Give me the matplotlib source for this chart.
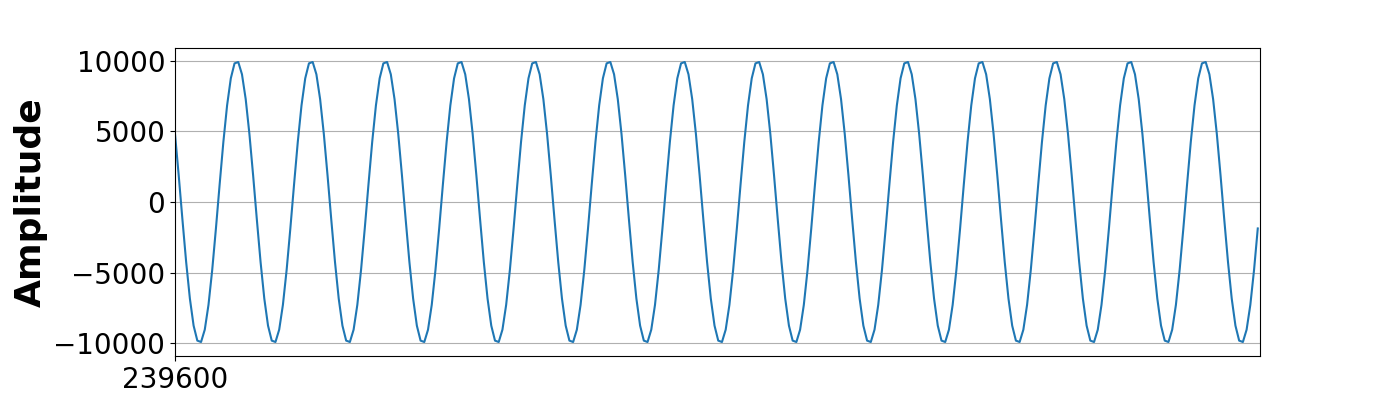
import matplotlib
matplotlib.use("Agg")
import matplotlib.pyplot as plt
import numpy as np

# sample index of the first point, spacing between read-off points
start_sample = 239600
step = 5
window = 1458

# amplitude, one row per cycle (~100 samples)
amplitude = [
    4818, 1874, -1253, -4258, -6845, -8763, -9823, -9921, -9048, -7290,
    -4818, -1874, 1253, 4258, 6845, 8763, 9823, 9921, 9048, 7290,
    4818, 1874, -1253, -4258, -6845, -8763, -9823, -9921, -9048, -7290,
    -4818, -1874, 1253, 4258, 6845, 8763, 9823, 9921, 9048, 7290,
    4818, 1874, -1253, -4258, -6845, -8763, -9823, -9921, -9048, -7290,
    -4818, -1874, 1253, 4258, 6845, 8763, 9823, 9921, 9048, 7290,
    4818, 1874, -1253, -4258, -6845, -8763, -9823, -9921, -9048, -7290,
    -4818, -1874, 1253, 4258, 6845, 8763, 9823, 9921, 9048, 7290,
    4818, 1874, -1253, -4258, -6845, -8763, -9823, -9921, -9048, -7290,
    -4818, -1874, 1253, 4258, 6845, 8763, 9823, 9921, 9048, 7290,
    4818, 1874, -1253, -4258, -6845, -8763, -9823, -9921, -9048, -7290,
    -4818, -1874, 1253, 4258, 6845, 8763, 9823, 9921, 9048, 7290,
    4818, 1874, -1253, -4258, -6845, -8763, -9823, -9921, -9048, -7290,
    -4818, -1874, 1253, 4258, 6845, 8763, 9823, 9921, 9048, 7290,
    4818, 1874, -1253, -4258, -6845, -8763, -9823, -9921, -9048, -7290,
    -4818, -1874, 1253, 4258, 6845, 8763, 9823, 9921, 9048, 7290,
    4818, 1874, -1253, -4258, -6845, -8763, -9823, -9921, -9048, -7290,
    -4818, -1874, 1253, 4258, 6845, 8763, 9823, 9921, 9048, 7290,
    4818, 1874, -1253, -4258, -6845, -8763, -9823, -9921, -9048, -7290,
    -4818, -1874, 1253, 4258, 6845, 8763, 9823, 9921, 9048, 7290,
    4818, 1874, -1253, -4258, -6845, -8763, -9823, -9921, -9048, -7290,
    -4818, -1874, 1253, 4258, 6845, 8763, 9823, 9921, 9048, 7290,
    4818, 1874, -1253, -4258, -6845, -8763, -9823, -9921, -9048, -7290,
    -4818, -1874, 1253, 4258, 6845, 8763, 9823, 9921, 9048, 7290,
    4818, 1874, -1253, -4258, -6845, -8763, -9823, -9921, -9048, -7290,
    -4818, -1874, 1253, 4258, 6845, 8763, 9823, 9921, 9048, 7290,
    4818, 1874, -1253, -4258, -6845, -8763, -9823, -9921, -9048, -7290,
    -4818, -1874, 1253, 4258, 6845, 8763, 9823, 9921, 9048, 7290,
    4818, 1874, -1253, -4258, -6845, -8763, -9823, -9921, -9048, -7290,
    -4818, -1874,
]
yticks = [-10000, -5000, 0, 5000, 10000]

samples = start_sample + step * np.arange(len(amplitude))

fig, ax = plt.subplots(figsize=(14, 4), dpi=100)
ax.plot(samples, amplitude, color="tab:blue", lw=1.5)
ax.set_xlim(start_sample, start_sample + window)
ax.set_xticks([start_sample])
ax.set_yticks(yticks)
ax.tick_params(labelsize=20)
ax.grid(axis="y", color="#b0b0b0", lw=0.8)
ax.set_axisbelow(True)
ax.set_ylabel("Amplitude", fontsize=26, fontweight="bold")

fig.savefig("out.png")
